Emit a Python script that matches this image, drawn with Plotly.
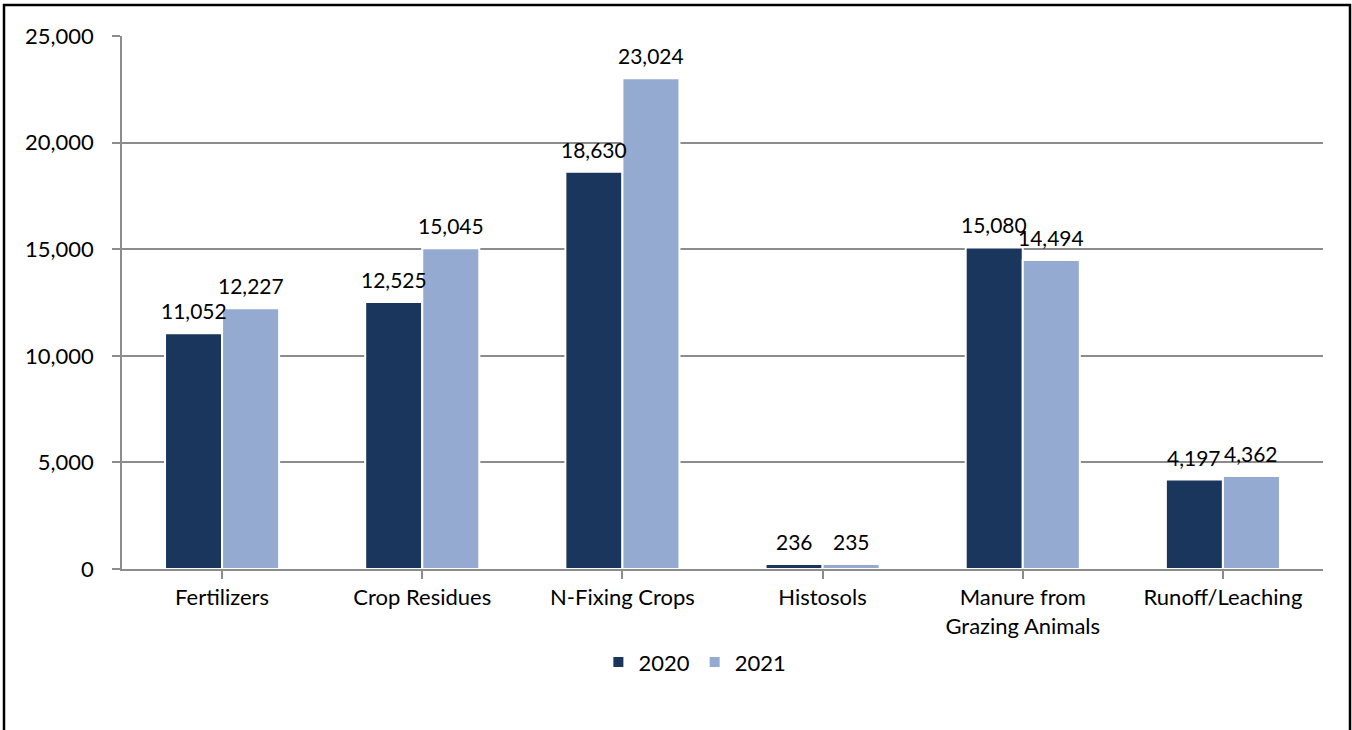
import plotly.graph_objects as go

# Emission sources and values (kt) for the two inventory years
categories = ["Fertilizers", "Crop Residues", "N-Fixing Crops", "Histosols",
              "Manure from<br>Grazing Animals", "Runoff/Leaching"]
values_2020 = [11052, 12525, 18630, 236, 15080, 4197]
values_2021 = [12227, 15045, 23024, 235, 14494, 4362]
y_ticks = [0, 5000, 10000, 15000, 20000, 25000]

DARK = "#1A365D"
LIGHT = "#95AAD1"
FONT = "Lato"
BAR_W = 0.285

x_idx = list(range(len(categories)))

fig = go.Figure()
fig.add_trace(go.Bar(
    name="2020", x=x_idx, y=values_2020, width=BAR_W, offset=-BAR_W,
    marker=dict(color=DARK, line=dict(color="white", width=2)),
))
fig.add_trace(go.Bar(
    name="2021", x=x_idx, y=values_2021, width=BAR_W, offset=0,
    marker=dict(color=LIGHT, line=dict(color="white", width=2)),
))

# Value labels above each bar
annotations = []
for i in x_idx:
    for val, dx in ((values_2020[i], -BAR_W / 2), (values_2021[i], BAR_W / 2)):
        annotations.append(dict(
            x=i + dx, y=val, xref="x", yref="y", text=f"{val:,}",
            showarrow=False, yanchor="bottom", yshift=8,
            font=dict(family=FONT, size=21, color="black"),
        ))

# Outer black frame around the chart area
fig.add_shape(type="rect", xref="paper", yref="paper",
              x0=(4 - 122) / 1201, x1=(1350 - 122) / 1201,
              y0=(569 - 740) / 533, y1=(569 - 5) / 533,
              line=dict(color="black", width=2.5), fillcolor="rgba(0,0,0,0)",
              layer="below")

fig.update_layout(
    width=1352, height=730,
    margin=dict(l=122, r=29, t=36, b=161),
    paper_bgcolor="white", plot_bgcolor="white",
    barmode="group",
    font=dict(family=FONT, size=22, color="black"),
    showlegend=True,
    legend=dict(orientation="h", x=0.477, xanchor="center", y=-0.175,
                yanchor="middle", font=dict(family=FONT, size=22),
                itemwidth=30, tracegroupgap=0),
    annotations=annotations,
    xaxis=dict(
        tickmode="array", tickvals=x_idx, ticktext=categories,
        range=[-0.5, len(categories) - 0.5],
        showline=True, linecolor="#8C8C8C", linewidth=1.5,
        ticks="outside", ticklen=8, tickcolor="#8C8C8C", tickwidth=1.5,
        tickson="boundaries", showgrid=False,
        tickfont=dict(family=FONT, size=22),
    ),
    yaxis=dict(
        range=[0, 25000], tickvals=y_ticks,
        ticktext=[f"{v:,}" for v in y_ticks],
        showline=True, linecolor="#8C8C8C", linewidth=1.5,
        ticks="outside", ticklen=8, tickcolor="#8C8C8C", tickwidth=1.5,
        showgrid=True, gridcolor="#8C8C8C", gridwidth=1.5,
        zeroline=False, ticklabelstandoff=14,
        tickfont=dict(family=FONT, size=22),
    ),
)

fig.write_html("out.html")
